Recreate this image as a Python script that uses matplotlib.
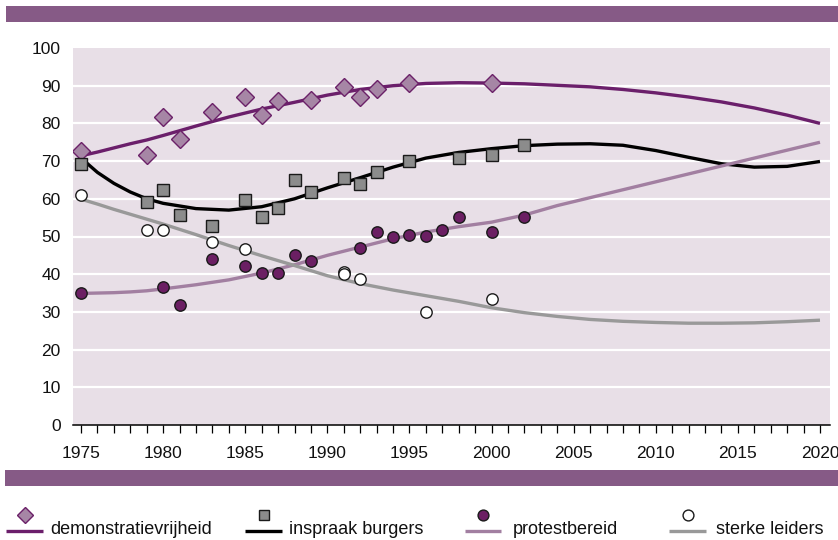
import matplotlib.pyplot as plt
from matplotlib.patches import Rectangle
from matplotlib.ticker import MultipleLocator

plt.rcParams['font.family'] = ['Liberation Sans', 'DejaVu Sans']

# ─── DATA ────────────────────────────────────────────
# survey results (points)
demo_years = [1975, 1979, 1980, 1981, 1983, 1985, 1986, 1987, 1989, 1991, 1992, 1993, 1995, 2000]
demo_vals = [72.8, 71.6, 81.6, 75.9, 83.1, 86.9, 82.2, 86.0, 86.3, 89.6, 87.1, 89.0, 90.6, 90.8]

insp_years = [1975, 1979, 1980, 1981, 1983, 1985, 1986, 1987, 1988, 1989, 1991, 1992, 1993, 1995, 1998, 2000, 2002]
insp_vals = [69.3, 59.2, 62.3, 55.8, 52.9, 59.8, 55.3, 57.6, 65.0, 61.9, 65.4, 63.8, 67.1, 69.9, 70.8, 71.6, 74.3]

prot_years = [1975, 1980, 1981, 1983, 1985, 1986, 1987, 1988, 1989, 1992, 1993, 1994, 1995, 1996, 1997, 1998, 2000, 2002]
prot_vals = [35.1, 36.6, 31.9, 44.0, 42.3, 40.4, 40.4, 45.0, 43.4, 47.0, 51.2, 49.8, 50.3, 50.2, 51.7, 55.1, 51.2, 55.3]

sterk_years = [1975, 1979, 1980, 1983, 1985, 1991, 1991, 1992, 1996, 2000]
sterk_vals = [61.1, 51.6, 51.6, 48.5, 46.8, 40.6, 40.1, 38.6, 30.1, 33.3]

# trend lines
trend_years = [1975, 1976, 1977, 1978, 1979, 1980, 1982, 1984, 1986, 1988, 1990, 1992, 1994,
               1996, 1998, 2000, 2002, 2004, 2006, 2008, 2010, 2012, 2014, 2016, 2018, 2020]
demo_trend = [71.4, 72.4, 73.5, 74.6, 75.6, 76.8, 79.3, 81.7, 83.8, 85.6, 87.5, 89.0, 90.0,
              90.6, 90.8, 90.7, 90.5, 90.1, 89.7, 89.0, 88.1, 87.0, 85.7, 84.1, 82.2, 80.0]
insp_trend = [70.8, 67.0, 64.1, 61.8, 60.0, 58.8, 57.4, 57.0, 57.9, 60.0, 62.9, 65.6, 68.4,
              70.8, 72.3, 73.3, 74.1, 74.5, 74.6, 74.2, 72.8, 71.0, 69.3, 68.4, 68.6, 69.9]
prot_trend = [34.9, 35.0, 35.1, 35.3, 35.6, 36.1, 37.2, 38.5, 40.3, 42.5, 45.0, 47.2, 49.4,
              51.2, 52.6, 53.8, 55.7, 58.2, 60.3, 62.4, 64.5, 66.6, 68.7, 70.8, 72.9, 75.0]
sterk_trend = [59.9, 58.6, 57.2, 55.9, 54.6, 53.3, 50.5, 47.6, 44.9, 42.3, 39.6, 37.5, 35.8,
               34.3, 32.8, 31.1, 29.8, 28.8, 28.0, 27.5, 27.2, 27.0, 27.0, 27.1, 27.4, 27.8]

labels = ['demonstratievrijheid', 'inspraak burgers', 'protestbereid', 'sterke leiders']

# ─── STYLES ──────────────────────────────────────────
band = '#865a86'
styles = [
    dict(marker='D', ms=8.7, lms=8.4, mfc='#a686a5', mec='#6b2068', line='#6b1f6b'),
    dict(marker='s', ms=8.0, lms=7.2, mfc='#8c8c8c', mec='#1a1a1a', line='#000000'),
    dict(marker='o', ms=8.2, lms=7.8, mfc='#6b1f63', mec='#1a1a1a', line='#a27fa1'),
    dict(marker='o', ms=8.2, lms=7.8, mfc='#ffffff', mec='#1a1a1a', line='#999999'),
]
points = [(demo_years, demo_vals), (insp_years, insp_vals),
          (prot_years, prot_vals), (sterk_years, sterk_vals)]
trends = [demo_trend, insp_trend, prot_trend, sterk_trend]

# ─── CHART ───────────────────────────────────────────
W, H = 838, 540
fig = plt.figure(figsize=(W / 100, H / 100), dpi=100)
ax = fig.add_axes([73 / W, 1 - 425 / H, 757 / W, 377 / H])
ax.set_facecolor('#e8dfe7')

for trend, st in zip(trends, styles):
    ax.plot(trend_years, trend, color=st['line'], lw=2.4, zorder=3,
            solid_capstyle='butt', solid_joinstyle='round')
for (xs, ys), st in zip(points, styles):
    ax.plot(xs, ys, linestyle='none', marker=st['marker'], ms=st['ms'],
            mfc=st['mfc'], mec=st['mec'], mew=1.0, zorder=5)

ax.set_xlim(1974.51, 2020.61)
ax.set_ylim(0, 100)
ax.set_yticks(range(0, 101, 10))
for v in range(10, 100, 10):
    ax.axhline(v, color='white', lw=1.6, zorder=1)

for s in ['top', 'right', 'left']:
    ax.spines[s].set_visible(False)
ax.spines['bottom'].set_linewidth(1.1)
ax.spines['bottom'].set_zorder(6)
ax.xaxis.set_major_locator(MultipleLocator(5))
ax.xaxis.set_minor_locator(MultipleLocator(1))
ax.tick_params(axis='x', which='both', direction='out', length=6, width=0.9,
               pad=9, labelsize=12.5, labelcolor='#111111')
ax.tick_params(axis='y', length=0, pad=9, labelsize=12.5, labelcolor='#111111')

# ─── BANDS + LEGEND ──────────────────────────────────
lax = fig.add_axes([0, 0, 1, 1], facecolor='none')
lax.set_xlim(0, W)
lax.set_ylim(H, 0)
lax.set_axis_off()
lax.add_patch(Rectangle((6, 6), W - 6, 16, color=band, lw=0))
lax.add_patch(Rectangle((5, 470), W - 5, 16, color=band, lw=0))

legend_x = [(6, 43, 50), (245, 282, 289), (465, 501, 513), (669, 706, 716)]
for (x0, x1, tx), st, lab in zip(legend_x, styles, labels):
    lax.plot([x0, x1], [531, 531], color=st['line'], lw=2.4, solid_capstyle='butt')
    lax.plot([(x0 + x1) / 2], [515], linestyle='none', marker=st['marker'],
             ms=st['lms'], mfc=st['mfc'], mec=st['mec'], mew=1.0)
    lax.text(tx, 530, lab, fontsize=13, va='center', ha='left', color='#111111')

fig.savefig('out.png', dpi=100)
